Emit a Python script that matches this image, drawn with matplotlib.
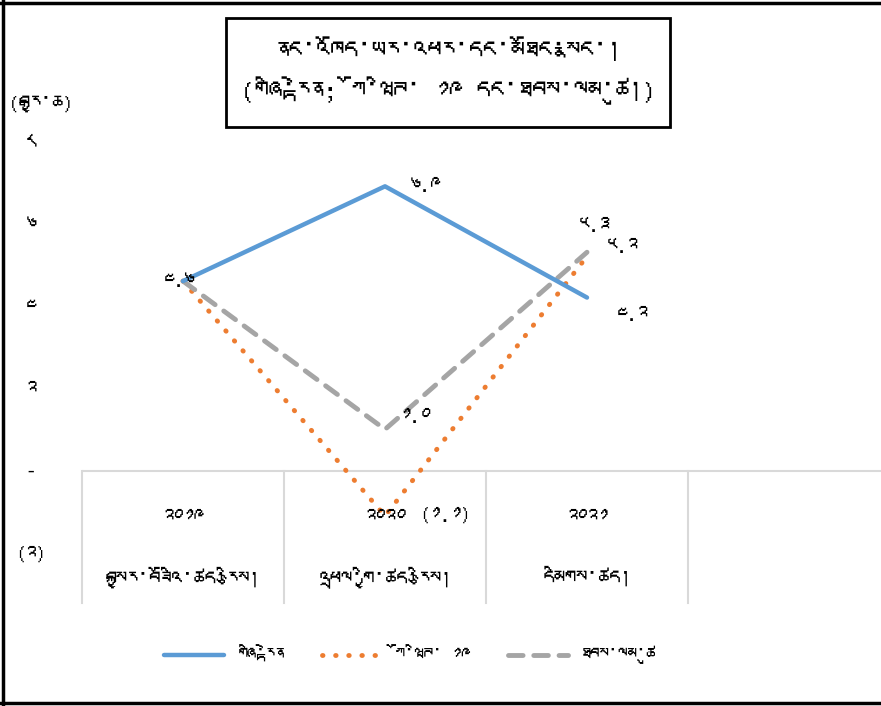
import numpy as np
import matplotlib
matplotlib.use('Agg')
import matplotlib.pyplot as plt
from matplotlib import font_manager
from matplotlib.ft2font import FT2Font
from matplotlib.lines import Line2D
from matplotlib.patches import Rectangle

# look for an installed font that covers Tibetan, fall back to DejaVu
tib_font = None
for f in font_manager.fontManager.ttflist:
    try:
        if 0x0F40 in FT2Font(f.fname).get_charmap():
            tib_font = f.name
            break
    except Exception:
        pass
fams = [tib_font, 'DejaVu Sans'] if tib_font else ['DejaVu Sans']
plt.rcParams['font.family'] = fams

# data
years = ['༢༠༡༩', '༢༠༢༠', '༢༠༢༡']
cats = ['བསྐྱར་བཟོའི་ཚད་རྩིས།', 'འཕྲལ་གྱི་ཚད་རྩིས།', 'དམིགས་ཚད།']
series_names = ['གཞི་རྟེན', 'ཀོ་ཝིཊ་ ༡༩', 'ཐབས་ལམ་ཚུ']
baseline = [4.6, 6.9, 4.2]
covid = [4.6, -1.1, 5.2]
policy = [4.6, 1.0, 5.3]
yticks = [-2, 0, 2, 4, 6, 8]
ytick_labels = ['(༢)', '-', '༢', '༤', '༦', '༨']
title = 'ནང་འཁོད་ཡར་འཕར་དང་མཐོང་སྣང་།\n(གཞི་རྟེན; ཀོ་ཝིཊ་ ༡༩ དང་ཐབས་ལམ་ཚུ།)'
ylabel = '(བརྒྱ་ཆ)'

tib_digits = '༠༡༢༣༤༥༦༧༨༩'
def tib(v):
    s = '%.1f' % abs(v)
    s = ''.join(tib_digits[int(c)] if c.isdigit() else c for c in s)
    return '(' + s + ')' if v < 0 else s

fig = plt.figure(figsize=(8.81, 7.06), dpi=100)
# axes: 0 at y=470px, 41.2px per unit, category slots 202px wide starting at x=82
ax = fig.add_axes([82/881, 1-553/706, 808/881, 412/706])
x = np.arange(len(years))

ax.plot(x, baseline, color='#5b9bd5', lw=3.2, solid_capstyle='round', label=series_names[0], zorder=3)
ax.plot(x, covid, color='#ed7d31', lw=3.5, linestyle=(0, (0.1, 2.6)), dash_capstyle='round', label=series_names[1], zorder=2)
ax.plot(x, policy, color='#a5a5a5', lw=3.5, linestyle=(0, (3, 2.2)), dash_capstyle='round', label=series_names[2], zorder=2)

ax.set_xlim(-0.5, 3.5)
ax.set_ylim(-2, 8)
ax.set_xticks([])
ax.set_yticks(yticks)
ax.set_yticklabels(ytick_labels, ha='center')
ax.tick_params(axis='y', length=0, pad=37, labelsize=15)
for s in ax.spines.values():
    s.set_visible(False)
ax.axhline(0, color='#d9d9d9', lw=1.5, zorder=1)

# category boxes below the axis
trans = ax.get_xaxis_transform()
for b in np.arange(-0.5, 3.0, 1.0):
    ax.plot([b, b], [0.2002, -0.122], transform=trans, color='#d9d9d9', lw=1.5, clip_on=False)
for i in range(len(years)):
    ax.text(x[i], -1.13, years[i], ha='center', va='center', fontsize=15)
    ax.text(x[i], -0.062, cats[i], transform=trans, ha='center', va='center', fontsize=16, clip_on=False)

# data labels
lab = dict(textcoords='offset pixels', va='center', fontsize=15)
ax.annotate(tib(baseline[0]), (x[0], baseline[0]), xytext=(-4, 0), ha='center', **lab)
ax.annotate(tib(baseline[1]), (x[1], baseline[1]), xytext=(25, 0), ha='left', **lab)
ax.annotate(tib(baseline[2]), (x[2], baseline[2]), xytext=(30, -17), ha='left', **lab)
ax.annotate(tib(policy[1]), (x[1], policy[1]), xytext=(14, 12), ha='left', **lab)
ax.annotate(tib(covid[1]), (x[1], covid[1]), xytext=(34, 0), ha='left', **lab)
ax.annotate(tib(policy[2]), (x[2], policy[2]), xytext=(-8, 26), ha='left', **lab)
ax.annotate(tib(covid[2]), (x[2], covid[2]), xytext=(20, 9), ha='left', **lab)

fig.text(8/881, 1-105/706, ylabel, ha='left', va='center', fontsize=16)

# title box
fig.add_artist(Rectangle((226/881, 1-127/706), 444/881, 109/706, transform=fig.transFigure,
                         fc='white', ec='black', lw=2))
fig.text(448/881, 1-72/706, title, ha='center', va='center', fontsize=20, linespacing=1.5)

ax.legend(loc='center', bbox_to_anchor=(410/881, 1-655/706), bbox_transform=fig.transFigure,
          ncol=3, frameon=False, fontsize=13.5, handlelength=3.2, columnspacing=2.0, handletextpad=0.7)

# outer frame (left, top, bottom)
fig.add_artist(Line2D([3/881, 3/881], [0, 1], color='black', lw=2.5, transform=fig.transFigure))
fig.add_artist(Line2D([0, 1], [1-3/706, 1-3/706], color='black', lw=2.5, transform=fig.transFigure))
fig.add_artist(Line2D([0, 1], [1-703/706, 1-703/706], color='black', lw=2.5, transform=fig.transFigure))

fig.savefig('out.png', dpi=100)
